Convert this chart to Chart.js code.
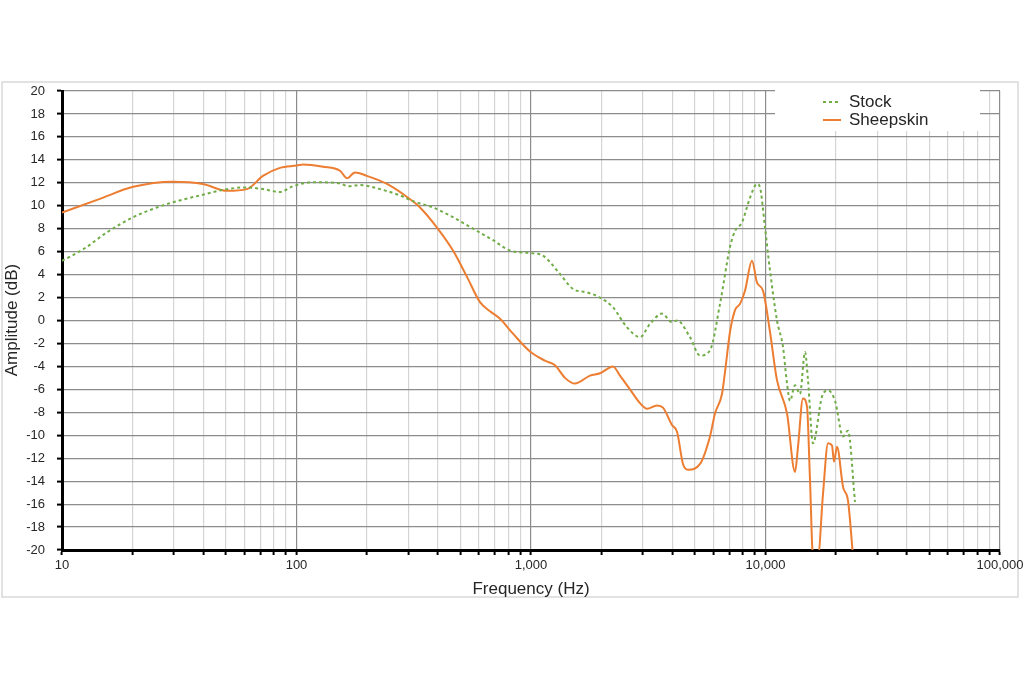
<!DOCTYPE html>
<html>
<head>
<meta charset="utf-8">
<script src="https://cdn.jsdelivr.net/npm/chart.js@4"></script>
<style>
  body { margin: 0; background: #fff; }
  #wrap { position: relative; width: 1024px; height: 683px; }
</style>
</head>
<body>
<div id="wrap"><canvas id="fr"></canvas></div>
<script>
// frequency response
const stockFreq = [10, 12.3, 15.6, 20.1, 25.4, 29.7, 38.8, 50.5, 61.5, 71.9, 85, 96.6, 117.6, 153.3, 165.8, 186.6,
  227.1, 276.3, 313.9, 382.1, 465, 588.5, 688.6, 813.6, 1020, 1125, 1330, 1510, 1733, 1969, 2237, 2567, 2916,
  3217, 3620, 3993, 4195, 4764, 5257, 5799, 6397, 7056, 7413, 7941, 8589, 9201, 9474, 9951, 10452, 11195,
  11874, 12353, 12720, 13360, 14030, 14740, 15180, 15940, 17410, 18480, 19790, 21410, 22480, 24080];
const stockDb = [5.2, 6.2, 7.7, 9.0, 9.85, 10.3, 10.9, 11.45, 11.6, 11.45, 11.2, 11.7, 12.05, 11.95, 11.7, 11.8,
  11.45, 10.9, 10.4, 9.85, 9.0, 7.8, 7.0, 6.1, 5.85, 5.65, 4.05, 2.75, 2.45, 2.0, 1.15, -0.6, -1.45,
  -0.3, 0.6, -0.15, 0, -1.45, -3.05, -2.6, 1.45, 6.4, 7.8, 8.55, 10.7, 11.9, 11.6, 8.1, 4.35, 0,
  -2.3, -5.5, -7.0, -5.65, -6.4, -2.75, -5.2, -10.7, -6.65, -6.1, -7.0, -10.1, -9.6, -15.8];

const sheepFreq = [10, 14.5, 20.1, 29.7, 39.9, 50.5, 61.5, 71.9, 85, 100.5, 106.6, 129.7, 153.3, 164.2, 177.6,
  199.8, 243.2, 298.9, 336.3, 397.2, 465, 533.5, 606, 668.7, 737.8, 837.9, 990, 1147, 1266, 1396, 1540,
  1785, 1969, 2237, 2396, 2643, 2916, 3124, 3446, 3655, 3993, 4195, 4448, 4672, 5257, 5799, 6090, 6523,
  6718, 7056, 7413, 7786, 8177, 8759, 9201, 9756, 10452, 11195, 12353, 13360, 13760, 14450, 15030, 15480,
  15940, 16750, 17590, 18480, 19210, 19600, 20180, 21410, 22480, 23610];
const sheepDb = [9.4, 10.6, 11.65, 12.1, 11.9, 11.3, 11.45, 12.6, 13.3, 13.5, 13.6, 13.4, 13.05, 12.4, 12.9,
  12.6, 11.9, 10.7, 9.85, 8.1, 6.1, 3.8, 1.6, 0.8, 0.15, -1.15, -2.7, -3.5, -3.9, -5.0, -5.5,
  -4.8, -4.6, -4.0, -4.8, -6.0, -7.2, -7.7, -7.4, -7.6, -9.1, -9.7, -12.5, -13.0, -12.5, -10.1, -8.1, -6.4,
  -4.5, -1.0, 0.9, 1.45, 2.6, 5.2, 3.3, 2.6, -1.0, -5.2, -8.1, -13.2, -11.0, -6.8, -7.5, -13.9,
  -20.5, -20.5, -15.1, -10.7, -10.9, -12.3, -11.0, -14.5, -15.7, -20.5];

const decades = [10, 100, 1000, 10000];
const minorSteps = [1, 2, 3, 4, 5, 6, 7, 8, 9];
const xTickLabels = { 10: '10', 100: '100', 1000: '1,000', 10000: '10,000', 100000: '100,000' };

const xGrid = [];
decades.forEach(d => minorSteps.forEach(m => xGrid.push(d * m)));
xGrid.push(100000);

const pts = (xs, ys) => xs.map((x, i) => ({ x: x, y: ys[i] }));

// frame, titles and the legend box are drawn by hand
const extras = {
  id: 'extras',
  beforeDraw(chart) {
    const c = chart.ctx;
    c.save();
    c.strokeStyle = '#d9d9d9';
    c.lineWidth = 1.5;
    c.strokeRect(2, 82, 1016, 515);
    c.restore();
  },
  afterDraw(chart) {
    const c = chart.ctx;
    c.save();
    c.fillStyle = '#262626';
    c.font = '17px "Liberation Sans", Arial, sans-serif';
    c.textAlign = 'center';
    c.textBaseline = 'middle';
    c.fillText('Frequency (Hz)', 531, 589);
    c.translate(12, 320);
    c.rotate(-Math.PI / 2);
    c.fillText('Amplitude (dB)', 0, 0);
    c.restore();

    // legend
    c.save();
    c.fillStyle = '#fff';
    c.fillRect(775, 86, 205, 45);
    c.lineWidth = 2;
    c.strokeStyle = '#70AD47';
    c.setLineDash([3, 3]);
    c.beginPath(); c.moveTo(823, 102); c.lineTo(841, 102); c.stroke();
    c.setLineDash([]);
    c.strokeStyle = '#ED7D31';
    c.beginPath(); c.moveTo(823, 120); c.lineTo(841, 120); c.stroke();
    c.fillStyle = '#262626';
    c.font = '17px "Liberation Sans", Arial, sans-serif';
    c.textBaseline = 'middle';
    c.fillText('Stock', 849, 102);
    c.fillText('Sheepskin', 849, 120);
    c.restore();
  }
};

new Chart(document.getElementById('fr'), {
  type: 'line',
  data: {
    datasets: [
      {
        label: 'Stock',
        data: pts(stockFreq, stockDb),
        borderColor: '#70AD47',
        borderWidth: 2,
        borderDash: [3, 3],
        pointRadius: 0,
        cubicInterpolationMode: 'monotone'
      },
      {
        label: 'Sheepskin',
        data: pts(sheepFreq, sheepDb),
        borderColor: '#ED7D31',
        borderWidth: 2,
        pointRadius: 0,
        cubicInterpolationMode: 'monotone'
      }
    ]
  },
  options: {
    responsive: true,
    maintainAspectRatio: false,
    animation: false,
    layout: { padding: { top: 91, right: 24, left: 0, bottom: 0 } },
    plugins: { legend: { display: false }, tooltip: { enabled: false } },
    scales: {
      x: {
        type: 'logarithmic',
        min: 10,
        max: 100000,
        afterBuildTicks: s => { s.ticks = xGrid.map(v => ({ value: v })); },
        afterFit: s => { s.height = 133; s.paddingRight = 0; s.paddingLeft = 0; },
        border: { color: '#000', width: 3 },
        grid: {
          color: ctx => (ctx.tick && xTickLabels[ctx.tick.value]) ? '#8c8c8c' : '#d4d4d4',
          lineWidth: 1.2,
          tickColor: '#000',
          tickLength: 5,
          tickWidth: 2
        },
        ticks: {
          autoSkip: false,
          maxRotation: 0,
          padding: 3,
          color: '#262626',
          font: { family: '"Liberation Sans", Arial, sans-serif', size: 13 },
          callback: v => xTickLabels[v] || ''
        }
      },
      y: {
        min: -20,
        max: 20,
        afterFit: s => { s.width = 62; s.paddingTop = 0; s.paddingBottom = 0; },
        border: { color: '#000', width: 3 },
        grid: { color: '#8c8c8c', lineWidth: 1.2, tickColor: '#000', tickLength: 5, tickWidth: 2 },
        ticks: {
          stepSize: 2,
          padding: 12,
          color: '#262626',
          font: { family: '"Liberation Sans", Arial, sans-serif', size: 13 }
        }
      }
    }
  },
  plugins: [extras]
});
</script>
</body>
</html>
